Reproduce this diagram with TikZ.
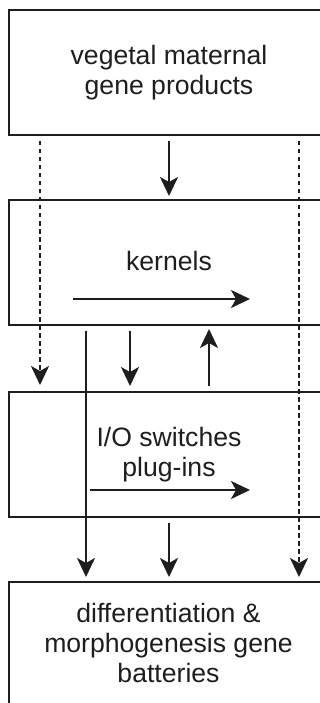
\documentclass[tikz,border=0pt]{standalone}
\usepackage{fontspec}
\setmainfont{Liberation Sans}
\usetikzlibrary{arrows.meta}
\definecolor{ink}{HTML}{1E1E1E}
\tikzset{
  frame/.style={draw=ink, line width=2pt, rectangle, inner sep=0pt},
  label/.style={text=ink, align=center, inner sep=0pt,
    font=\fontsize{26.6}{30}\selectfont},
  arr/.style={draw=ink, line width=2pt,
    -{Stealth[length=19pt,width=18pt,inset=5pt]}},
  dotarr/.style={arr, dash pattern=on 4.5pt off 3.5pt}
}
\begin{document}
\begin{tikzpicture}[x=1pt,y=-1pt]
\useasboundingbox (0,0) rectangle (320,703);
\clip (0,0) rectangle (320,703);
\fill[white] (0,0) rectangle (320,703);

% the four stacked boxes (they run off the right and bottom edges)
\node[frame, minimum width=331pt, minimum height=125pt] (b1) at (174.5,72.5) {};
\node[frame, minimum width=331pt, minimum height=125pt] (b2) at (174.5,262.5) {};
\node[frame, minimum width=331pt, minimum height=125pt] (b3) at (174.5,454.5) {};
\node[frame, minimum width=331pt, minimum height=140pt] (b4) at (174.5,652) {};

% box texts
\node[label] (t1) at (169,72.5) {vegetal maternal\\gene products};
\node[label] (t2) at (169,261) {kernels};
\node[label] (t3) at (169,455) {I/O switches\\plug-ins};
\node[label] (t4) at (168.5,642.5) {differentiation \&\\morphogenesis gene\\batteries};

% column positions of the connectors
\coordinate (xl) at (40,0);
\coordinate (xs) at (86,0);
\coordinate (xa) at (130,0);
\coordinate (xc) at (169,0);
\coordinate (xu) at (209,0);
\coordinate (xr) at (299,0);

% arrows inside the boxes
\coordinate (k1) at (73,299);
\coordinate (k2) at (250,299);
\coordinate (p1) at (90,490);
\coordinate (p2) at (250,490);
\draw[arr] (k1) -- (k2);
\draw[arr] (p1) -- (p2);

% vegetal maternal -> kernels
\draw[arr, shorten >=3pt] ([yshift=-5pt]b1.south -| xc) -- (b2.north -| xc);
% dotted bypasses
\draw[dotarr, shorten >=6pt] ([yshift=-5pt]b1.south -| xl) -- (b3.north -| xl);
\draw[dotarr, shorten >=4pt] ([yshift=-5pt]b1.south -| xr) -- (b4.north -| xr);
% kernels <-> I/O switches
\draw[arr, shorten >=4pt] ([yshift=-5pt]b2.south -| xs) -- (b4.north -| xs);
\draw[arr, shorten >=5pt] ([yshift=-5pt]b2.south -| xa) -- (b3.north -| xa);
\draw[arr, shorten >=3pt] ([yshift=5pt]b3.north -| xu) -- (b2.south -| xu);
% I/O switches -> batteries
\draw[arr, shorten >=4pt] ([yshift=-5pt]b3.south -| xc) -- (b4.north -| xc);
\end{tikzpicture}
\end{document}
